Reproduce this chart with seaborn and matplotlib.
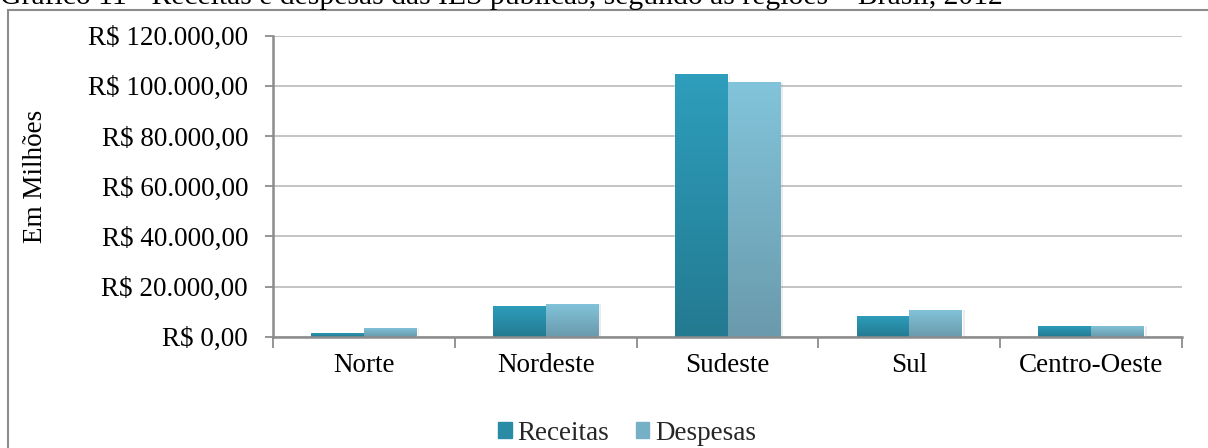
import numpy as np
import pandas as pd
import seaborn as sns
import matplotlib
matplotlib.use("Agg")
import matplotlib.pyplot as plt
from matplotlib.colors import LinearSegmentedColormap
from matplotlib.patches import Rectangle
from matplotlib.ticker import FuncFormatter, FixedLocator

regioes = ["Norte", "Nordeste", "Sudeste", "Sul", "Centro-Oeste"]
receitas = [1600, 12400, 104800, 8400, 4400]
despesas = [3600, 13200, 101600, 10800, 4400]
series = ["Receitas", "Despesas"]

df = pd.DataFrame({
    "Região": regioes * 2,
    "Valor": receitas + despesas,
    "Tipo": [series[0]] * 5 + [series[1]] * 5,
})

sns.set_theme(style="white")
plt.rcParams["font.family"] = ["Liberation Serif", "DejaVu Serif"]

fig = plt.figure(figsize=(12.08, 4.48), dpi=100)
ax = fig.add_axes([0.226, 0.2484, 0.7525, 0.6719])

sns.barplot(data=df, x="Região", y="Valor", hue="Tipo",
            palette=["#2A8BA6", "#76B0C6"], width=0.58, saturation=1,
            ax=ax, legend=False, zorder=3)

# gradient fill per bar (light top -> dark bottom)
grad = {
    0: LinearSegmentedColormap.from_list("rec", ["#237A91", "#2E9EBC"]),
    1: LinearSegmentedColormap.from_list("des", ["#6A9AAC", "#82C4DB"]),
}
bars = [p for p in ax.patches if p.get_height() > 0]
for i, p in enumerate(bars):
    x0, y0 = p.get_x(), p.get_y()
    w, h = p.get_width(), p.get_height()
    # soft shadow
    ax.add_patch(Rectangle((x0 + 0.015, y0), w, h - 300, color="#000000",
                           alpha=0.08, lw=0, zorder=2))
    img = np.linspace(0, 1, 256).reshape(-1, 1)
    im = ax.imshow(img, cmap=grad[i // 5], extent=[x0, x0 + w, y0, y0 + h],
                   origin="lower", aspect="auto", zorder=3.5)
    im.set_clip_path(p)
    p.set_facecolor("none")

ax.set_xlim(-0.5, 4.5)
ax.set_ylim(0, 120000)
ax.set_yticks(np.arange(0, 120001, 20000))


def brl(v, pos):
    s = f"{v:,.2f}".replace(",", "X").replace(".", ",").replace("X", ".")
    return "R$ " + s


ax.yaxis.set_major_formatter(FuncFormatter(brl))
ax.grid(axis="y", color="#BFBFBF", lw=1.3, zorder=0)
ax.set_axisbelow(True)

for s in ["top", "right"]:
    ax.spines[s].set_visible(False)
for s in ["left", "bottom"]:
    ax.spines[s].set_color("#8C8C8C")
    ax.spines[s].set_linewidth(1.8)
    ax.spines[s].set_zorder(5)

ax.tick_params(axis="y", which="major", length=6, width=1.3, color="#8C8C8C",
               labelsize=19.5, labelcolor="black", pad=12, left=True)
ax.tick_params(axis="x", which="major", length=0, labelsize=19.5,
               labelcolor="black", pad=12)
ax.xaxis.set_minor_locator(FixedLocator(np.arange(-0.5, 4.6, 1)))
ax.tick_params(axis="x", which="minor", length=8, width=1.3,
               color="#8C8C8C", bottom=True)

ax.set_xlabel("")
ax.set_ylabel("")
fig.text(36 / 1208, 1 - 176 / 448, "Em Milhões", rotation=90, ha="center",
         va="center", fontsize=19.5, color="black")

handles = [Rectangle((0, 0), 1, 1, color="#2A8BA6"),
           Rectangle((0, 0), 1, 1, color="#76B0C6")]
fig.legend(handles, series, loc="center", bbox_to_anchor=(627 / 1208, 1 - 433 / 448),
           ncol=2, frameon=False, fontsize=19.5, handlelength=0.5,
           handleheight=0.5, handletextpad=0.2, columnspacing=1.0,
           borderpad=0, borderaxespad=0)

frame = Rectangle((8 / 1208, -0.2), 1.1, 1.2 - 10 / 448, transform=fig.transFigure,
                  fill=False, edgecolor="#8C8C8C", lw=1.5, clip_on=False)
fig.patches.append(frame)

fig.text(0.0, 1 - 4 / 448,
         "Gráfico 11 - Receitas e despesas das IES públicas, segundo as regiões – Brasil, 2012",
         ha="left", va="baseline", fontsize=21.3, color="black")

fig.savefig("out.png", dpi=100)
